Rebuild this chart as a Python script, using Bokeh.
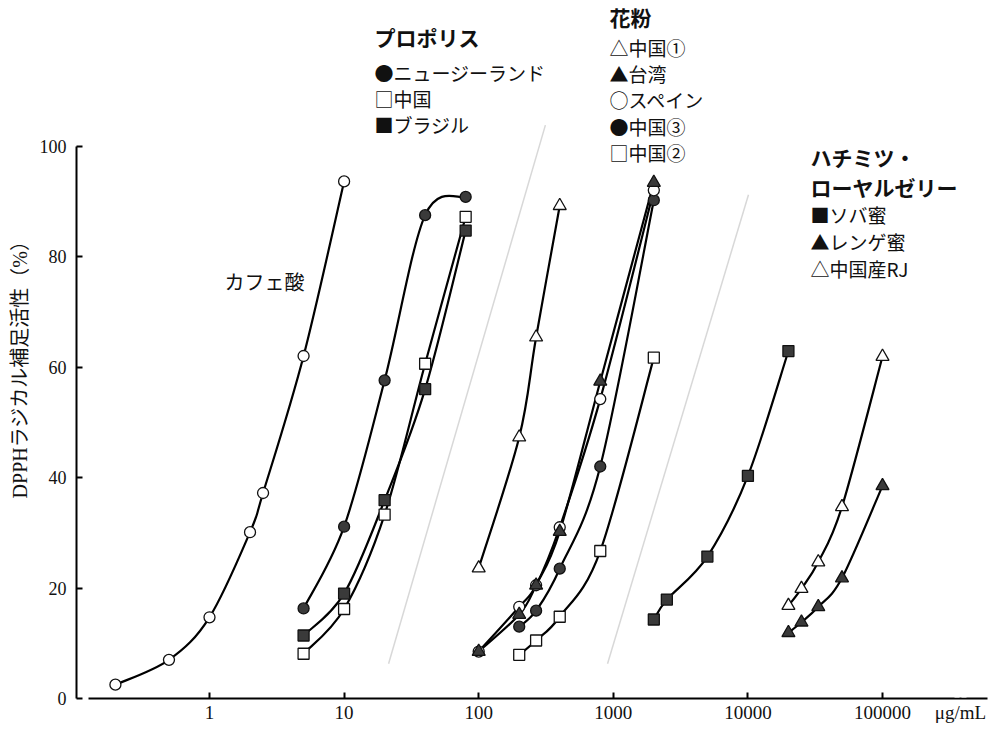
import math
from bokeh.plotting import figure
from bokeh.models import FixedTicker, CustomJSTickFormatter, BoxAnnotation
from bokeh.core.properties import value
from bokeh.embed import file_html
from bokeh.resources import INLINE

# ---------------- data ----------------
caffeic_x = [0.2, 0.5, 1, 2, 2.5, 5, 10]
caffeic_y = [2.5, 7.0, 14.7, 30.1, 37.2, 62.0, 93.6]

propolis_x = [5, 10, 20, 40, 80]
propolis_nz = [16.3, 31.1, 57.6, 87.5, 90.8]
propolis_cn = [8.1, 16.2, 33.3, 60.6, 87.2]
propolis_br = [11.4, 19.0, 35.9, 56.0, 84.7]

pollen_cn1_x = [100, 200, 267, 400]
pollen_cn1_y = [23.6, 47.3, 65.4, 89.2]
pollen_tw_x = [100, 200, 267, 400, 800, 2000]
pollen_tw_y = [8.5, 15.2, 20.5, 30.2, 57.4, 93.4]
pollen_es_x = [100, 200, 267, 400, 800, 2000]
pollen_es_y = [8.5, 16.6, 20.5, 31.0, 54.2, 92.0]
pollen_cn3_x = [200, 267, 400, 800, 2000]
pollen_cn3_y = [13.0, 15.9, 23.5, 42.0, 90.2]
pollen_cn2_x = [200, 267, 400, 800, 2000]
pollen_cn2_y = [7.9, 10.5, 14.8, 26.7, 61.7]

soba_x = [2000, 2500, 5000, 10000, 20000]
soba_y = [14.3, 17.9, 25.7, 40.3, 62.9]
honey_x = [20000, 25000, 33333, 50000, 100000]
renge_y = [11.9, 13.8, 16.6, 21.8, 38.5]
rj_y = [16.8, 19.9, 24.7, 34.7, 61.9]

sep1_x = [21.4, 313]
sep1_y = [6.3, 103.8]
sep2_x = [906, 10100]
sep2_y = [6.3, 91.2]

x_ticks = [1, 10, 100, 1000, 10000, 100000]
y_ticks = [0, 20, 40, 60, 80, 100]
unit_label = "μg/mL"

# ---------------- layout helpers (page pixel -> data, for text placement) ----------------
X0, DEC = 209.0, 134.6
Y0, PPU = 700.0, 5.54


def dx(px):
    return 10 ** ((px - X0) / DEC)


def dy(py):
    return (Y0 - py) / PPU


SERIF = "Liberation Serif, Noto Sans CJK JP"
JP = "Noto Sans CJK JP"
FILL = "#3a3a3a"
INK = "#111111"

W, H = 995, 725
p = figure(width=W, height=H, x_axis_type="log",
           x_range=(dx(76), dx(W)), y_range=(0, dy(0)),
           output_backend="svg", toolbar_location=None,
           min_border_left=76, min_border_right=0, min_border_top=0,
           min_border_bottom=H - 700)
p.outline_line_color = None
p.grid.visible = False
p.background_fill_color = "white"

# axes
unit_pos = dx(960)
p.xaxis.ticker = FixedTicker(ticks=x_ticks + [unit_pos])
p.xaxis.formatter = CustomJSTickFormatter(
    args=dict(unit=unit_label),
    code="return tick > 200000 ? unit : tick.toFixed(0);")
p.xaxis.bounds = (dx(88), dx(987))
p.yaxis.ticker = FixedTicker(ticks=y_ticks)
p.yaxis.bounds = (0, 100)
for ax in (p.xaxis, p.yaxis):
    ax.major_tick_in = 6
    ax.major_tick_out = 0
    ax.minor_tick_line_color = None
    ax.axis_line_width = 2
    ax.major_tick_line_width = 2
    ax.axis_line_color = "black"
    ax.major_tick_line_color = "black"
    ax.major_label_text_font = "Liberation Serif"
    ax.major_label_text_color = INK
p.xaxis.major_label_text_font_size = "19px"
p.yaxis.major_label_text_font_size = "18px"
p.xaxis.major_label_standoff = 3
p.yaxis.major_label_standoff = 10
p.yaxis.axis_label = "DPPHラジカル補足活性（%）\u3000\u3000"
p.yaxis.axis_label_text_font = SERIF
p.yaxis.axis_label_text_font_style = "normal"
p.yaxis.axis_label_text_font_size = "20px"
p.yaxis.axis_label_text_color = INK
p.yaxis.axis_label_standoff = 6

# hide the tick mark under the unit label
p.add_layout(BoxAnnotation(left=dx(954), right=dx(966), bottom=0.2, top=1.7,
                           fill_color="white", fill_alpha=1.0,
                           line_color=None, level="overlay"))

# separators
p.line(sep1_x, sep1_y, line_color="#d8d8d8", line_width=1.5)
p.line(sep2_x, sep2_y, line_color="#d8d8d8", line_width=1.5)


# smooth curves through the points (Catmull-Rom in log-x space)
def curve(xs, ys):
    u = [math.log10(v) for v in xs]
    n = len(u)
    x0, y0, x1, y1, cx0, cy0, cx1, cy1 = ([] for _ in range(8))
    for i in range(n - 1):
        a = max(i - 1, 0)
        b = min(i + 2, n - 1)
        c0u = u[i] + (u[i + 1] - u[a]) / 6
        c0y = ys[i] + (ys[i + 1] - ys[a]) / 6
        c1u = u[i + 1] - (u[b] - u[i]) / 6
        c1y = ys[i + 1] - (ys[b] - ys[i]) / 6
        x0.append(xs[i]); y0.append(ys[i])
        x1.append(xs[i + 1]); y1.append(ys[i + 1])
        cx0.append(10 ** c0u); cy0.append(c0y)
        cx1.append(10 ** c1u); cy1.append(c1y)
    p.bezier(x0=x0, y0=y0, x1=x1, y1=y1, cx0=cx0, cy0=cy0, cx1=cx1, cy1=cy1,
             line_color="black", line_width=2.2)


series = [
    (caffeic_x, caffeic_y, "circle", False, 11),
    (propolis_x, propolis_cn, "square", False, 11),
    (propolis_x, propolis_br, "square", True, 11),
    (propolis_x, propolis_nz, "circle", True, 11),
    (pollen_cn1_x, pollen_cn1_y, "triangle", False, 13),
    (pollen_cn2_x, pollen_cn2_y, "square", False, 11),
    (pollen_cn3_x, pollen_cn3_y, "circle", True, 11),
    (pollen_es_x, pollen_es_y, "circle", False, 11),
    (pollen_tw_x, pollen_tw_y, "triangle", True, 13),
    (soba_x, soba_y, "square", True, 11),
    (honey_x, rj_y, "triangle", False, 13),
    (honey_x, renge_y, "triangle", True, 13),
]
for xs, ys, _, _, _ in series:
    curve(xs, ys)
for xs, ys, mk, filled, sz in series:
    p.scatter(xs, ys, marker=mk, size=sz,
              fill_color=FILL if filled else "white",
              line_color=INK, line_width=1.3)


# text annotations
def txt(px, py, s, size="19px", bold=False, font=JP):
    p.text(x=[dx(px)], y=[dy(py)], text=[s], text_font=value(font),
           text_font_size=size, text_font_style="bold" if bold else "normal",
           text_align="left", text_baseline="middle", text_color=INK)


txt(224, 282, "カフェ酸", "20px")

txt(374, 37, "プロポリス", "21px", True)
for i, s in enumerate(["●ニュージーランド", "□中国", "■ブラジル"]):
    txt(374, 72 + 26 * i, s)

txt(609, 17, "花粉", "21px", True)
for i, s in enumerate(["△中国①", "▲台湾", "○スペイン", "●中国③", "□中国②"]):
    txt(609, 47 + 26.3 * i, s)

txt(810, 157, "ハチミツ・", "21px", True)
txt(810, 187, "ローヤルゼリー", "21px", True)
for i, s in enumerate(["■ソバ蜜", "▲レンゲ蜜", "△中国産RJ"]):
    txt(810, 215 + 27 * i, s)

open("out.html", "w").write(file_html(p, INLINE))
